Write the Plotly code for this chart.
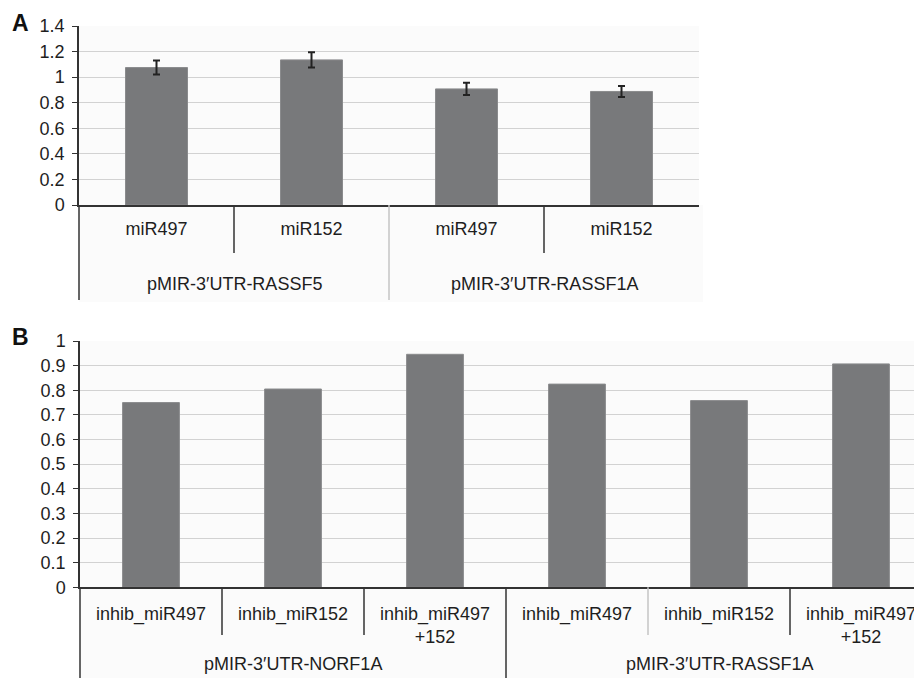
import plotly.graph_objects as go

# ---------------- data ----------------
a_groups = ["pMIR-3′UTR-RASSF5", "pMIR-3′UTR-RASSF5", "pMIR-3′UTR-RASSF1A", "pMIR-3′UTR-RASSF1A"]
a_labels = ["miR497", "miR152", "miR497", "miR152"]
a_values = [1.075, 1.135, 0.908, 0.888]
a_errors = [0.055, 0.060, 0.048, 0.043]
a_yticks = [0, 0.2, 0.4, 0.6, 0.8, 1.0, 1.2, 1.4]
a_yticktext = ["0", "0.2", "0.4", "0.6", "0.8", "1", "1.2", "1.4"]

b_groups = ["pMIR-3′UTR-NORF1A"] * 3 + ["pMIR-3′UTR-RASSF1A"] * 3
b_labels = ["inhib_miR497", "inhib_miR152", "inhib_miR497<br>+152",
            "inhib_miR497", "inhib_miR152", "inhib_miR497<br>+152"]
b_values = [0.750, 0.805, 0.946, 0.825, 0.758, 0.907]
b_yticks = [0, 0.1, 0.2, 0.3, 0.4, 0.5, 0.6, 0.7, 0.8, 0.9, 1.0]
b_yticktext = ["0", "0.1", "0.2", "0.3", "0.4", "0.5", "0.6", "0.7", "0.8", "0.9", "1"]

# ---------------- layout helpers ----------------
# the page body has an 8px margin, so the figure is drawn 8px in from the window corner
OFF = 8
W, H = 922 - OFF, 678 - OFF
def px(x):
    return (x - OFF) / W
def py(y):
    return 1 - (y - OFF) / H

FONT = "Liberation Sans, Arial, sans-serif"
FS = 18
TXT = "#1e1e1e"
BAR = "#78797b"
DARK = "#333333"
FAINT = "#c4c4c4"
GRID = "#d2d2d2"

fig = go.Figure()

a_x = list(range(len(a_values)))
b_x = list(range(len(b_values)))

fig.add_trace(go.Bar(
    x=a_x, y=a_values, width=0.4,
    marker=dict(color=BAR, line=dict(color="#8a8b8d", width=1)),
    error_y=dict(type="data", array=a_errors, visible=True, color="#222222",
                 thickness=2, width=3.5),
    xaxis="x", yaxis="y", showlegend=False, hoverinfo="skip"))

fig.add_trace(go.Bar(
    x=b_x, y=b_values, width=0.4,
    marker=dict(color=BAR, line=dict(color="#8a8b8d", width=1)),
    xaxis="x2", yaxis="y2", showlegend=False, hoverinfo="skip"))

# panel geometry (reference-window pixels)
A_left, A_right, A_top, A_bot = 79, 699, 26, 205
B_left, B_top, B_bot = 80, 341, 587.3
B_catw = 142.0
B_right = 922
b_xmax = -0.5 + (B_right - B_left) / B_catw

axis_common = dict(showline=True, linecolor=DARK, linewidth=1.5, zeroline=False,
                   automargin=False,
                   tickfont=dict(family=FONT, size=FS, color=TXT))

fig.update_layout(
    width=W, height=H, autosize=False,
    margin=dict(l=0, r=0, t=0, b=0, pad=0, autoexpand=False),
    paper_bgcolor="white",
    plot_bgcolor="#fbfbfb",
    xaxis=dict(domain=[px(A_left), px(A_right)], range=[-0.5, len(a_values) - 0.5],
               tickmode="array", tickvals=a_x, ticktext=a_labels, ticks="",
               ticklabelstandoff=7, showgrid=False, **axis_common),
    yaxis=dict(domain=[py(A_bot), py(A_top)], range=[0, 1.4],
               tickmode="array", tickvals=a_yticks, ticktext=a_yticktext,
               ticks="outside", ticklen=5, tickcolor=DARK, ticklabelstandoff=4,
               showgrid=True, gridcolor=GRID, gridwidth=1, anchor="x", **axis_common),
    xaxis2=dict(domain=[px(B_left), 1.0], range=[-0.5, b_xmax], anchor="y2",
                tickmode="array", tickvals=b_x, ticktext=b_labels, ticks="",
                ticklabelstandoff=9, showgrid=False, **axis_common),
    yaxis2=dict(domain=[py(B_bot), py(B_top)], range=[0, 1.0], anchor="x2",
                tickmode="array", tickvals=b_yticks, ticktext=b_yticktext,
                ticks="outside", ticklen=5, tickcolor=DARK, ticklabelstandoff=4,
                showgrid=True, gridcolor=GRID, gridwidth=1, **axis_common),
)

shapes = []
# light background under category-label area
shapes.append(dict(type="rect", xref="paper", yref="paper", layer="below",
                   x0=px(A_left), x1=px(A_right + 4), y0=py(302), y1=py(A_bot),
                   fillcolor="#fbfbfb", line=dict(width=0)))
shapes.append(dict(type="rect", xref="paper", yref="paper", layer="below",
                   x0=px(B_left), x1=1, y0=0, y1=py(B_bot),
                   fillcolor="#fbfbfb", line=dict(width=0)))

# left axis extensions below the plots
shapes.append(dict(type="line", xref="paper", yref="paper",
                   x0=px(A_left), x1=px(A_left), y0=py(A_bot), y1=py(300),
                   line=dict(color=DARK, width=1.5)))
shapes.append(dict(type="line", xref="paper", yref="paper",
                   x0=px(B_left), x1=px(B_left), y0=py(B_bot), y1=0,
                   line=dict(color=DARK, width=1.5)))

# separators panel A
a_sep_colors = [DARK, FAINT, DARK]
for i in range(len(a_values) - 1):
    long_sep = a_groups[i] != a_groups[i + 1]
    shapes.append(dict(type="line", xref="x", yref="paper",
                       x0=i + 0.5, x1=i + 0.5, y0=py(A_bot),
                       y1=py(300) if long_sep else py(253),
                       line=dict(color=a_sep_colors[i], width=1.5)))
# separators panel B
b_sep_colors = [DARK, DARK, DARK, FAINT, DARK]
for i in range(len(b_values) - 1):
    long_sep = b_groups[i] != b_groups[i + 1]
    shapes.append(dict(type="line", xref="x2", yref="paper",
                       x0=i + 0.5, x1=i + 0.5, y0=py(B_bot),
                       y1=0 if long_sep else py(635),
                       line=dict(color=b_sep_colors[i], width=1.5)))
fig.update_layout(shapes=shapes)

annotations = []
def group_centers(groups):
    out = []
    seen = []
    for g in groups:
        if g not in seen:
            seen.append(g)
    for g in seen:
        idx = [i for i, v in enumerate(groups) if v == g]
        out.append((g, sum(idx) / len(idx)))
    return out

for g, cx in group_centers(a_groups):
    annotations.append(dict(text=g, xref="x", yref="paper", x=cx, y=py(284),
                            showarrow=False, xanchor="center", yanchor="middle",
                            font=dict(family=FONT, size=FS, color=TXT)))
for g, cx in group_centers(b_groups):
    annotations.append(dict(text=g, xref="x2", yref="paper", x=cx, y=py(664),
                            showarrow=False, xanchor="center", yanchor="middle",
                            font=dict(family=FONT, size=FS, color=TXT)))

annotations.append(dict(text="<b>A</b>", xref="paper", yref="paper", x=px(20), y=py(23),
                        showarrow=False, xanchor="center", yanchor="middle",
                        font=dict(family=FONT, size=23, color="#111111")))
annotations.append(dict(text="<b>B</b>", xref="paper", yref="paper", x=px(20), y=py(337),
                        showarrow=False, xanchor="center", yanchor="middle",
                        font=dict(family=FONT, size=23, color="#111111")))
fig.update_layout(annotations=annotations)

fig.write_html("out.html")
